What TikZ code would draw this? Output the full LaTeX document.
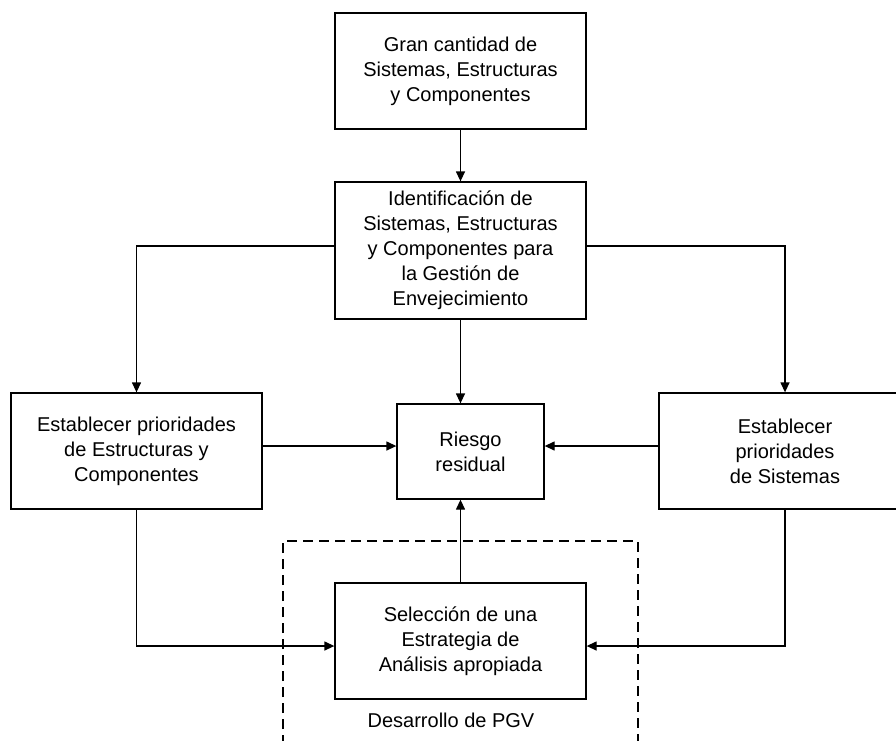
\documentclass[tikz,border=0pt]{standalone}
\usepackage{fontspec}
\setmainfont{Liberation Sans}
\usetikzlibrary{arrows.meta}
\begin{document}
\begin{tikzpicture}[x=1pt,y=-1pt,
  boxnode/.style={draw, line width=1.3pt, rectangle, align=center, inner sep=0pt,
    font=\fontsize{20}{25}\selectfont, text=black},
  conn/.style={line width=1.3pt, -{Triangle[length=10pt,width=9pt]}},
  plain/.style={line width=1.3pt}]
\useasboundingbox (0,0) rectangle (896,740);
\clip (0,0) rectangle (896,740);
\node[boxnode, minimum width=251pt, minimum height=116pt] (b1) at (460.5,71)
  {Gran cantidad de\\Sistemas, Estructuras\\y Componentes};
\node[boxnode, minimum width=251pt, minimum height=137pt] (b2) at (460.5,250.5)
  {Identificación de\\Sistemas, Estructuras\\y Componentes para\\la Gestión de\\Envejecimiento};
\node[boxnode, minimum width=251pt, minimum height=116pt] (lb) at (136.5,451)
  {Establecer prioridades\\de Estructuras y\\Componentes};
\node[boxnode, minimum width=147pt, minimum height=95pt] (rr) at (470.5,451.5)
  {Riesgo\\residual};
\node[boxnode, minimum width=252pt, minimum height=116pt] (rb) at (785,451)
  {Establecer\\prioridades\\de Sistemas};
\node[boxnode, minimum width=251pt, minimum height=116pt] (sb) at (460.5,641)
  {Selección de una\\Estrategia de\\Análisis apropiada};
\node[font=\fontsize{20}{25}\selectfont, anchor=base, inner sep=0pt] (pgv) at (451,727) {Desarrollo de PGV};
\coordinate (yl) at (0,246);
\coordinate (ym) at (0,446);
\coordinate (yb) at (0,646);
\coordinate (d1) at (283,745);
\coordinate (d2) at (283,541);
\coordinate (d3) at (638,541);
\coordinate (d4) at (638,745);
\draw[line width=2pt, dash pattern=on 10pt off 6pt] (d1) -- (d2) -- (d3) -- (d4);
\draw[conn] (b1.south) -- (b2.north);
\draw[conn] (b2.west |- yl) -| (lb.north);
\draw[conn] (b2.east |- yl) -| (rb.north);
\draw[conn] (b2.south) -- (b2.south |- rr.north);
\draw[conn] (lb.east |- ym) -- (rr.west |- ym);
\draw[conn] (rb.west |- ym) -- (rr.east |- ym);
\draw[conn] (sb.north) -- (sb.north |- rr.south);
\draw[conn] (lb.south) |- (sb.west |- yb);
\draw[conn] (rb.south) |- (sb.east |- yb);
\end{tikzpicture}
\end{document}
